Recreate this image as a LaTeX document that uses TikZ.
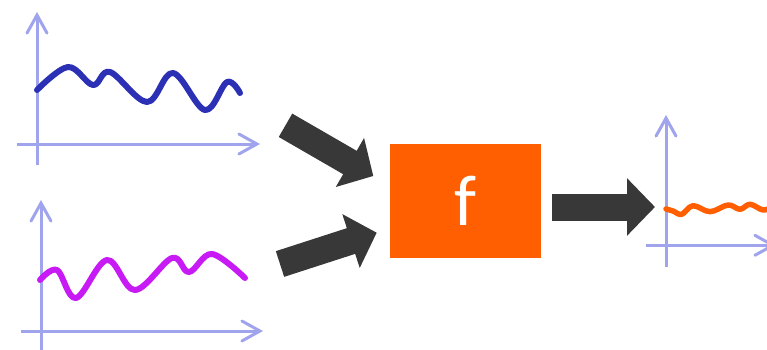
\documentclass[tikz,border=0pt]{standalone}
\usepackage{fontspec}
\setmainfont{Carlito}
\usetikzlibrary{arrows.meta}
\definecolor{axiscol}{HTML}{A0A4EC}
\definecolor{bluec}{HTML}{2B30B5}
\definecolor{magc}{HTML}{C81AF5}
\definecolor{orc}{HTML}{FF5F00}
\definecolor{darkc}{HTML}{383838}
\tikzset{
  axis/.style={draw=axiscol, line width=3pt, -{Straight Barb[length=18pt,width=20pt,line cap=round]}},
  wave/.style={line width=6pt, line cap=round, line join=round},
  fat/.style={draw=darkc, line width=27pt, -{Triangle[length=27pt,width=55pt]}},
  fbox/.style={fill=orc, minimum width=151pt, minimum height=114pt, inner sep=0pt, text=white, font=\fontsize{72}{72}\selectfont}
}
\begin{document}
\begin{tikzpicture}[x=1pt,y=-1pt]
\useasboundingbox (0,0) rectangle (767,350);
\clip (0,0) rectangle (767,350);
% top-left chart
\coordinate (ay1s) at (37,165); \coordinate (ay1e) at (37,12);
\coordinate (ax1s) at (17,144); \coordinate (ax1e) at (260,144);
\draw[axis] (ay1s) -- (ay1e);
\draw[axis] (ax1s) -- (ax1e);
\draw[wave, bluec] plot[smooth, tension=0.6] coordinates {(37,90) (68,67) (93,85) (110,72) (147,102) (173,73) (205,110) (227,82) (240,93)};
% bottom-left chart
\coordinate (ay2s) at (41,350); \coordinate (ay2e) at (41,200);
\coordinate (ax2s) at (21,331); \coordinate (ax2e) at (263,331);
\draw[axis] (ay2s) -- (ay2e);
\draw[axis] (ax2s) -- (ax2e);
\draw[wave, magc] plot[smooth, tension=0.6] coordinates {(40,280) (57,270) (76,298) (107,260) (135,290) (172,258) (189,272) (212,254) (245,278)};
% box
\node[fbox] (f) at (465.5,200.5) {f};
% arrows in
\coordinate (a1s) at (285.5,125.3); \coordinate (a1e) at (373.3,176);
\coordinate (a2s) at (280,264); \coordinate (a2e) at (376.7,232.7);
\draw[fat] (a1s) -- (a1e);
\draw[fat] (a2s) -- (a2e);
\coordinate (a3s) at (552.3,207); \coordinate (a3e) at (655,207);
\draw[fat, -{Triangle[length=28pt,width=56pt]}] (a3s) -- (a3e);
% right chart
\coordinate (ay3s) at (666,267); \coordinate (ay3e) at (666,115);
\coordinate (ax3s) at (646,245.3); \coordinate (ax3e) at (776,245.3);
\draw[axis] (ay3s) -- (ay3e);
\draw[axis] (ax3s) -- (ax3e);
\draw[wave, orc, line width=5.5pt] plot[smooth, tension=0.6] coordinates {(666,209) (673,211) (681.7,214.3) (693,205.7) (710,211.7) (728,205) (740,209.3) (750,204.3) (763,210) (772,207)};
\end{tikzpicture}
\end{document}
